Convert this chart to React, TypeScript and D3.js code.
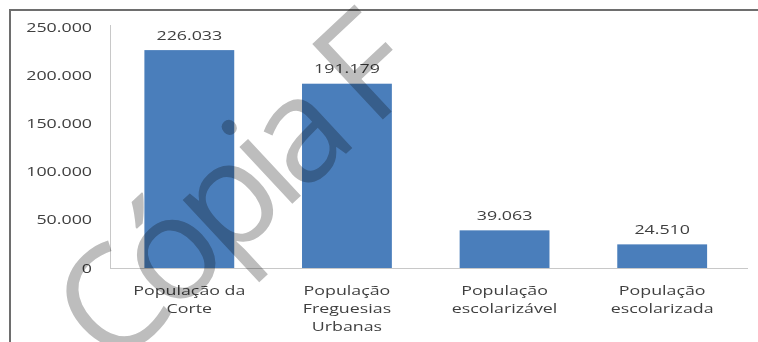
import React from "react";
import * as d3 from "d3";

const categories: string[][] = [
  ["População da", "Corte"],
  ["População", "Freguesias", "Urbanas"],
  ["População", "escolarizável"],
  ["População", "escolarizada"],
];
const values: number[] = [226033, 191179, 39063, 24510];
const yTicks: number[] = [0, 50000, 100000, 150000, 200000, 250000];
const watermark = "Cópia F";

const W = 758;
const H = 342;
const SX = 1.37;
const FONT = "'Open Sans', sans-serif";
const TXT = "#3f3f3f";

const fmt = (v: number) => d3.format(",")(v).replace(/,/g, ".");

export default function App() {
  const x = d3
    .scaleBand<number>()
    .domain(values.map((_, i) => i))
    .range([110.5, 741])
    .paddingInner(0.43)
    .paddingOuter(0.215);
  const y = d3.scaleLinear().domain([0, 250000]).range([268, 27]);

  return (
    <svg
      width={W}
      height={H}
      style={{ position: "absolute", left: 0, top: 0, background: "#fff" }}
      fontFamily={FONT}
    >
      <rect x={0} y={0} width={W} height={H} fill="#fff" />
      {/* frame */}
      <line x1={9} y1={10} x2={W} y2={10} stroke="#6e6e6e" strokeWidth={2} />
      <line x1={10} y1={10} x2={10} y2={H} stroke="#6e6e6e" strokeWidth={2} />

      {/* axes */}
      <line x1={110.5} y1={y(250000) - 2} x2={110.5} y2={y(0)} stroke="#c8c8c8" />
      <line x1={110} y1={y(0) + 0.5} x2={748} y2={y(0) + 0.5} stroke="#c8c8c8" />

      {yTicks.map((t) => (
        <text
          key={t}
          transform={`translate(92,${y(t) + 4.5}) scale(${SX},1)`}
          textAnchor="end"
          fontSize={13}
          fill={TXT}
        >
          {fmt(t)}
        </text>
      ))}

      {values.map((v, i) => (
        <g key={i}>
          <rect
            x={x(i)}
            y={y(v)}
            width={x.bandwidth()}
            height={y(0) - y(v)}
            fill="#4a7ebb"
          />
          <text
            transform={`translate(${(x(i) as number) + x.bandwidth() / 2},${y(v) - 10.5}) scale(${SX},1)`}
            textAnchor="middle"
            fontSize={13}
            fill={TXT}
          >
            {fmt(v)}
          </text>
          {categories[i].map((line, j) => (
            <text
              key={j}
              transform={`translate(${(x(i) as number) + x.bandwidth() / 2},${294.5 + j * 18}) scale(${SX},1)`}
              textAnchor="middle"
              fontSize={13}
              fill={TXT}
            >
              {line}
            </text>
          ))}
        </g>
      ))}

      {/* watermark */}
      <text
        transform="translate(112,372) rotate(-43)"
        fontSize={145}
        letterSpacing={-11}
        fill="#bdbdbd"
        style={{ mixBlendMode: "multiply" }}
        fontFamily={FONT}
      >
        {watermark}
      </text>
    </svg>
  );
}
